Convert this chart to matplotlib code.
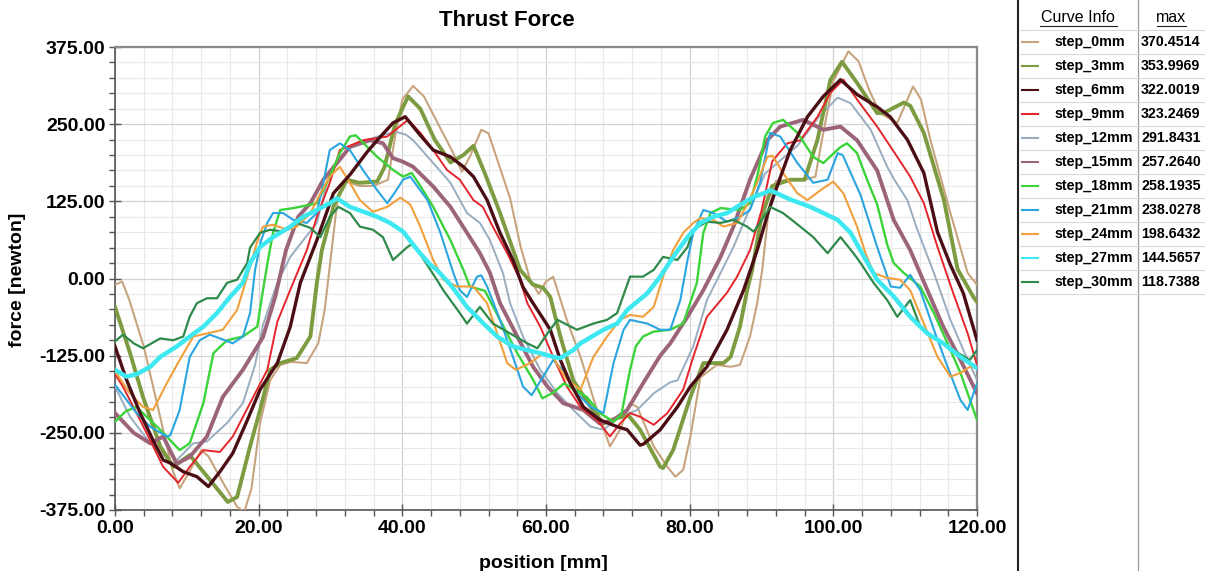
import matplotlib
matplotlib.use('Agg')
from matplotlib import pyplot as plt
from matplotlib.lines import Line2D
from matplotlib.ticker import FormatStrFormatter
import numpy as np

plt.rcParams['font.family'] = ['Liberation Sans', 'DejaVu Sans']

# curves: (position mm, force newton)
step_0mm = [(0,-10),(1,-5),(2,-35),(4,-110),(6,-210),(8,-310),(9,-340),(10,-320),(12,-278),(13,-288),(15,-330),(17,-370),(18,-378),(19,-340),
            (20.2,-234),(21.6,-165),(23,-140),(24.5,-135),(26.7,-137),(28.3,-105),(29.2,-50),(30,30),(31,130),(32,158),(34,150),(36,150),(38,160),
            (39,230),(40,290),(41.5,312),(43,295),(45,250),(47,205),(48.3,173),(49.5,200),(51,241),(52,235),(53,200),(55,130),(56.5,50),(57.8,-2),
            (59,-25),(60,-5),(61,3),(62.9,-67),(64.8,-127),(67.1,-213),(68.9,-272),(70.3,-245),(71.7,-202),(72.7,-208),(75,-272),(76.9,-305),
            (78,-321),(79.1,-310),(80.1,-256),(81.5,-160),(83.8,-140),(85.7,-143),(87,-140),(88.4,-94),(89.4,-40),(90.1,14),(91,110),(92,158),
            (94,160),(96,160),(97.5,165),(98.5,230),(100,320),(102.1,368),(103.5,352),(105,305),(106.5,268),(108.9,252),(111.1,311),(112.2,290),
            (113.5,225),(116.3,106),(118.7,9),(120,-10)]
step_3mm = [(0,-46),(2.1,-121),(3.9,-192),(6.3,-272),(8.1,-305),(10.4,-286),(13.2,-326),(15.7,-362),(17,-354),(18.8,-272),(20.2,-213),
            (21.6,-148),(23,-137),(25.3,-129),(27.2,-94),(28.1,-7),(28.8,46),(30.5,120),(32.3,160),(34,155),(36.5,157),(37.5,180),(39,250),
            (40.8,295),(42.5,275),(44.5,225),(46.7,188),(48.5,200),(49.9,215),(51.5,170),(53.6,106),(56.4,14),(58.2,-10),(59.6,-15),(60.6,-30),
            (62,-94),(63.8,-165),(66.2,-208),(68,-235),(69.9,-226),(71.5,-222),(73.1,-245),(75.9,-305),(76.3,-307),(77.7,-278),(80.1,-192),
            (81.9,-137),(84.7,-137),(85.7,-127),(87,-78),(88,-19),(88.7,14),(90,100),(91.5,150),(94,160),(96,160),(97.8,225),(99.6,322),
            (101.2,351),(103.3,317),(106.1,268),(107,268),(109.8,285),(110.7,280),(112.6,236),(115.4,127),(117.3,15),(119.5,-30),(120,-38)]
step_6mm = [(0,-110),(1.6,-164),(3.5,-218),(5.3,-262),(6.7,-294),(7.7,-299),(9.5,-313),(11.4,-321),(13,-337),(14.6,-313),(16.4,-283),
            (18.4,-230),(20.2,-180),(22.6,-137),(24.4,-78),(25.8,-7),(28.1,62),(30.4,138),(32.7,168),(35.1,205),(36.5,224),(38.7,252),(40.4,262),
            (42.5,232),(44.3,208),(46.7,197),(48.5,181),(49.9,165),(51.8,127),(53.6,74),(55.4,30),(56.8,-14),(58.2,-40),(60.6,-83),(62,-132),
            (63.4,-170),(65.2,-208),(67.5,-229),(69.9,-240),(71.3,-245),(73.1,-270),(73.6,-268),(75.9,-245),(78.3,-208),(80.1,-175),(82.4,-143),
            (85.2,-83),(87.5,-19),(89.4,46),(91,110),(92.5,160),(94,208),(96.4,262),(98.6,295),(101,322),(103.3,298),(106.1,278),(107.9,262),
            (110.3,225),(112.6,171),(114.5,75),(116.3,22),(118.1,-24),(120,-100)]
step_9mm = [(0,-155),(1.1,-175),(3,-218),(4.9,-262),(6.7,-305),(8.8,-331),(10.4,-305),(12.3,-278),(14.6,-281),(16.4,-256),(18.8,-202),
            (21.2,-148),(22.6,-70),(24.8,-7),(26.7,46),(28.1,100),(29.9,155),(31.3,208),(34.5,224),(37.9,230),(40.8,257),(42.5,236),(44.3,208),
            (46.2,176),(48,160),(49.9,127),(51.2,116),(52.6,84),(54.6,41),(56.4,-2),(57.4,-40),(59.2,-78),(61,-127),(62.9,-175),(64.8,-208),
            (67.1,-229),(68.9,-256),(70.3,-235),(71.7,-218),(73.1,-224),(75,-237),(76.9,-218),(79.1,-180),(80.5,-127),(82.4,-62),(85.2,-23),
            (86.6,3),(88.4,46),(90,110),(91.5,190),(93.6,219),(95.4,224),(97.8,262),(99.6,301),(101.4,322),(103.3,290),(106.1,246),(108.9,197),
            (110.7,165),(112.6,122),(114.5,51),(116.7,-24),(118.7,-89),(120,-140)]
step_12mm = [(0,-175),(2.1,-224),(4.9,-267),(8.1,-300),(10.9,-267),(12.8,-264),(15.6,-234),(17.8,-202),(19.5,-140),(20.6,-75),(22.6,-7),
             (24.4,35),(26.2,62),(28.1,90),(29.5,155),(30.9,192),(33,215),(36,228),(39,238),(40.5,233),(41.5,224),(44.3,187),(46.7,155),(49,106),
             (50.8,90),(52.2,62),(54,9),(55,-40),(56.8,-94),(59.2,-148),(61.6,-186),(63.8,-213),(66.2,-240),(68,-245),(70.3,-224),(72.7,-213),
             (75,-186),(77.3,-168),(78.3,-165),(80.5,-110),(82.4,-35),(84.3,9),(86.1,51),(87.5,90),(88.9,127),(90.5,170),(92,185),(95,215),
             (98,262),(100.6,293),(102.4,284),(105.2,241),(107.5,181),(108.5,160),(110.3,127),(111.7,79),(114,9),(116.3,-67),(118.7,-132),(120,-164)]
step_15mm = [(0,-218),(2.6,-250),(4.9,-267),(6.7,-256),(8.6,-300),(10.4,-289),(12.8,-256),(15,-192),(17.8,-148),(20.6,-95),(22.3,-30),
             (23.8,46),(25.5,100),(27.2,122),(29,160),(30.9,187),(32.7,213),(35.5,224),(37.3,219),(38.7,195),(40.1,189),(41.5,181),(44.3,149),
             (46.7,116),(49,74),(50.8,41),(52.2,9),(53.6,-40),(56,-94),(58.2,-143),(60.2,-175),(62.4,-202),(65.2,-213),(67.5,-235),(69.4,-229),
             (71.3,-213),(73.5,-170),(75.9,-125),(77.3,-105),(79.7,-62),(81.9,-19),(84.3,35),(86.1,84),(88.4,160),(90.8,224),(92.6,246),
             (95.8,257),(98.6,241),(101,246),(103.3,224),(106.1,175),(108.4,95),(110.7,46),(113.1,-19),(115.3,-78),(117.7,-132),(120,-186)]
step_18mm = [(0,-232),(1.5,-215),(3,-208),(4.5,-225),(6.3,-245),(9,-278),(10.4,-267),(12.3,-202),(13.7,-121),(15.6,-100),(17.8,-94),
             (19.8,-78),(20.6,-19),(21.3,30),(22,74),(23,111),(24.8,114),(26.5,118),(28.1,122),(29.9,165),(31.3,203),(32.7,230),(33.5,232),
             (36.5,197),(38.7,176),(40.1,165),(41.3,171),(42.5,150),(44.3,116),(46.7,62),(48.5,14),(49.4,-13),(51.5,-20),(53.6,-67),(56,-121),
             (58.2,-164),(59.5,-194),(61,-185),(62.5,-170),(64,-180),(65.7,-192),(67.5,-218),(69.4,-232),(70.5,-220),(71.7,-148),(72.5,-110),
             (73.5,-94),(75,-86),(77.3,-83),(79.1,-73),(81,-7),(81.9,74),(82.9,106),(84.3,114),(87,111),(88.4,122),(89.5,170),(90.5,230),
             (91.6,252),(93,257),(95,236),(97.2,197),(98.6,187),(101,213),(101.9,219),(103.3,203),(104.7,160),(106.1,120),(107.5,55),(108.4,25),
             (109.8,9),(112.1,-13),(114,-56),(115.9,-105),(117.7,-153),(120,-229)]
step_21mm = [(0,-172),(1.5,-195),(3,-218),(4.9,-240),(7.2,-256),(7.7,-254),(9,-213),(10.4,-127),(11.8,-100),(13.2,-91),(14.6,-97),(16.4,-105),
             (17.8,-94),(18.8,-56),(19.5,14),(20.3,60),(21.2,90),(22,106),(23.4,106),(24.8,95),(26.7,90),(28.1,106),(29,155),(29.9,208),(31.3,219),
             (32.7,208),(34.5,176),(36.5,143),(37.9,122),(39,140),(40.1,160),(41.1,165),(43.5,127),(45.3,74),(47.1,9),(48,-19),(49,-30),(50.4,3),
             (51,5),(51.8,-13),(53.6,-67),(55.4,-127),(56.8,-175),(58,-189),(59.6,-159),(61,-132),(62.5,-150),(64.3,-186),(66.2,-208),(68,-218),
             (69.4,-137),(70.8,-83),(71.7,-67),(74.1,-73),(75.9,-83),(77.3,-83),(78.7,-35),(79.7,30),(80.5,74),(81.9,111),(83.3,106),(85.2,92),
             (87,100),(88.4,111),(89.8,155),(91.2,236),(92.6,230),(95,187),(97.2,155),(99.2,160),(100.6,203),(101.3,200),(103.8,135),(106.1,51),
             (108,-13),(109.3,-15),(110.7,6),(112.1,-19),(114,-83),(115.9,-143),(117.7,-197),(118.7,-213),(120,-170)]
step_24mm = [(0,-150),(2,-185),(3.9,-208),(5.3,-213),(7.2,-170),(9,-132),(10.9,-94),(12.8,-89),(15,-83),(17,-51),(18.4,3),(19.8,60),(20.6,84),
             (22,87),(24,79),(25.3,84),(27.2,106),(28.6,138),(29.9,165),(31.3,181),(32.7,155),(34.1,127),(35.9,108),(37.9,116),(39.7,131),
             (41.1,120),(42.5,84),(44.3,30),(45.7,-2),(47.6,-13),(49.9,-13),(51.8,-40),(53.2,-89),(54.6,-137),(55.8,-148),(57.8,-137),(59.6,-121),
             (61,-128),(62.9,-164),(64.8,-180),(66.6,-127),(68.5,-94),(70.3,-67),(71.7,-59),(73.5,-62),(75,-46),(76.3,3),(77.7,46),(79.1,74),
             (80.5,90),(81.5,98),(83.3,95),(84.7,84),(86.6,90),(88,120),(89.4,155),(90.8,197),(91.5,199),(93,171),(95,138),(96.4,127),(98.2,143),
             (100,157),(101.4,138),(103.3,84),(104.5,40),(105.6,9),(107.5,1),(109.3,-2),(110.7,-19),(112.6,-73),(114.5,-127),(116.3,-159),
             (117.7,-153),(119,-143),(120,-145)]
step_27mm = [(0,-148),(1.6,-159),(3,-155),(4.9,-143),(6.3,-127),(8.6,-110),(10.4,-94),(12.3,-78),(14.2,-56),(16,-30),(17.8,-7),(18.8,25),
             (20.2,51),(22,67),(24.4,84),(26.2,100),(28.1,111),(29.9,122),(30.9,130),(32.7,116),(35.1,106),(36.5,100),(38.3,90),(40.1,76),
             (42.1,46),(43.9,22),(44.8,14),(46.7,-10),(49,-46),(51.3,-73),(53.2,-94),(55.4,-110),(57.4,-116),(59.2,-121),(61,-127),(62,-129),
             (63.8,-116),(64.8,-105),(68,-83),(69.9,-73),(71.3,-51),(74.1,-24),(75.9,3),(77.7,35),(79.7,67),(81.5,90),(83.3,100),(85.2,106),
             (87,119),(88.9,132),(90.3,138),(91.2,143),(94,128),(96.8,116),(98.6,106),(100.6,95),(102.4,74),(103.8,45),(106.1,-2),(108.4,-29),
             (110.7,-62),(113.1,-89),(115.3,-105),(117.7,-127),(120,-145)]
step_30mm = [(0,-102),(1.1,-91),(2.6,-105),(3.9,-113),(6.3,-97),(8.1,-100),(9.5,-94),(10.4,-62),(11.4,-40),(12.8,-32),(14.2,-32),(15.6,-7),
             (17,-2),(18.4,25),(18.8,50),(20.2,74),(21.6,79),(23.4,76),(25.3,90),(27.2,82),(28.6,67),(29.9,100),(31.1,116),(32.7,106),(34.1,84),
             (35.9,79),(37.3,67),(38.7,30),(40.7,51),(41.5,57),(42.9,32),(44.8,-2),(45.7,-19),(48,-56),(49,-73),(50.8,-46),(52.6,-73),(55,-89),
             (57.4,-105),(58.8,-113),(60.2,-89),(61.6,-67),(64.3,-83),(66.6,-73),(68.5,-67),(69.9,-56),(71.7,3),(73.5,3),(75,14),(76.3,35),
             (78.3,30),(79.7,51),(80.5,79),(82.4,92),(84.3,90),(86.1,95),(88,84),(88.9,76),(89.8,90),(91.2,116),(93,106),(95.4,84),(97.2,67),
             (99.2,41),(101,67),(102.8,41),(103.8,25),(105.6,-7),(107.5,-35),(108.9,-62),(110.7,-35),(112.1,-78),(114.5,-100),(116.7,-116),
             (119,-132),(120,-116)]

names = ['step_0mm','step_3mm','step_6mm','step_9mm','step_12mm','step_15mm','step_18mm','step_21mm','step_24mm','step_27mm','step_30mm']
max_vals = ['370.4514','353.9969','322.0019','323.2469','291.8431','257.2640','258.1935','238.0278','198.6432','144.5657','118.7388']
curves = [step_0mm,step_3mm,step_6mm,step_9mm,step_12mm,step_15mm,step_18mm,step_21mm,step_24mm,step_27mm,step_30mm]

# styles
colors = ['#c8a47e','#7d9b40','#4a0e14','#e4262c','#98adc0','#9c6478','#3ad43a','#2aa5e0','#f0a03c','#3ee8f0','#2e8a4a']
widths = [1.5,2.8,2.4,1.4,1.4,2.8,1.7,1.5,1.5,3.2,1.6]
zord = [3,4,6,5,3,4,5,5,5,7,6]

W,H = 1205.,571.
def fx(px): return px/W
def fy(py): return 1-py/H

fig = plt.figure(figsize=(12.05,5.71),dpi=100)
ax = fig.add_axes([fx(115),fy(510),862/W,463/H])

for k in range(len(curves)):
    x,y = zip(*curves[k])
    ax.plot(x,y,color=colors[k],lw=widths[k],zorder=zord[k],solid_joinstyle='round')

ax.set_xlim(0,120)
ax.set_ylim(-375,375)
ax.set_xticks(np.arange(0,121,20))
ax.set_xticks(np.arange(0,121,4),minor=True)
ax.set_yticks(np.arange(-375,376,125))
ax.set_yticks(np.arange(-375,376,25),minor=True)
ax.xaxis.set_major_formatter(FormatStrFormatter('%.2f'))
ax.yaxis.set_major_formatter(FormatStrFormatter('%.2f'))
ax.grid(which='major',color='#d2d2d2',lw=0.9)
ax.grid(which='minor',color='#e9e9e9',lw=0.8)
ax.set_axisbelow(True)
ax.tick_params(which='major',direction='inout',length=8,width=1,color='#555555',labelsize=14,pad=3)
ax.tick_params(which='minor',direction='out',length=4,width=1,color='#555555')
for lab in ax.get_xticklabels()+ax.get_yticklabels():
    lab.set_fontweight('bold')
for s in ['left','bottom']:
    ax.spines[s].set_color('#555555'); ax.spines[s].set_linewidth(1.2)
for s in ['top','right']:
    ax.spines[s].set_color('#8a8a8a'); ax.spines[s].set_linewidth(1.6)

fig.text(fx(507),fy(20),'Thrust Force',ha='center',va='center',fontsize=16,fontweight='bold')
fig.text(fx(543),fy(564),'position [mm]',ha='center',va='center',fontsize=14,fontweight='bold')
fig.text(fx(18),fy(280),'force [newton]',ha='center',va='center',fontsize=14,fontweight='bold',rotation=90)

# curve info table on the right
fig.add_artist(Line2D([fx(1018),fx(1018)],[0,1],transform=fig.transFigure,color='#222222',lw=1.5))
fig.add_artist(Line2D([fx(1138),fx(1138)],[0,1],transform=fig.transFigure,color='#9a9a9a',lw=0.9))
fig.text(fx(1078),fy(17),'Curve Info',ha='center',va='center',fontsize=11.5)
fig.add_artist(Line2D([fx(1040),fx(1117)],[fy(26),fy(26)],transform=fig.transFigure,color='#222222',lw=0.8))
fig.text(fx(1171),fy(17),'max',ha='center',va='center',fontsize=11.5)
fig.add_artist(Line2D([fx(1157),fx(1186)],[fy(26),fy(26)],transform=fig.transFigure,color='#222222',lw=0.8))
for i in range(len(names)):
    yc = 42+24*i
    fig.add_artist(Line2D([fx(1019),fx(1205)],[fy(yc-12),fy(yc-12)],transform=fig.transFigure,color='#d8d8d8',lw=0.8))
    fig.add_artist(Line2D([fx(1022),fx(1038)],[fy(yc),fy(yc)],transform=fig.transFigure,color=colors[i],lw=1.5))
    fig.text(fx(1055),fy(yc),names[i],ha='left',va='center',fontsize=10.3,fontweight='bold')
    fig.text(fx(1141),fy(yc),max_vals[i],ha='left',va='center',fontsize=10.3,fontweight='bold')
fig.add_artist(Line2D([fx(1019),fx(1205)],[fy(294),fy(294)],transform=fig.transFigure,color='#d8d8d8',lw=0.8))

fig.savefig('out.png',dpi=100)
